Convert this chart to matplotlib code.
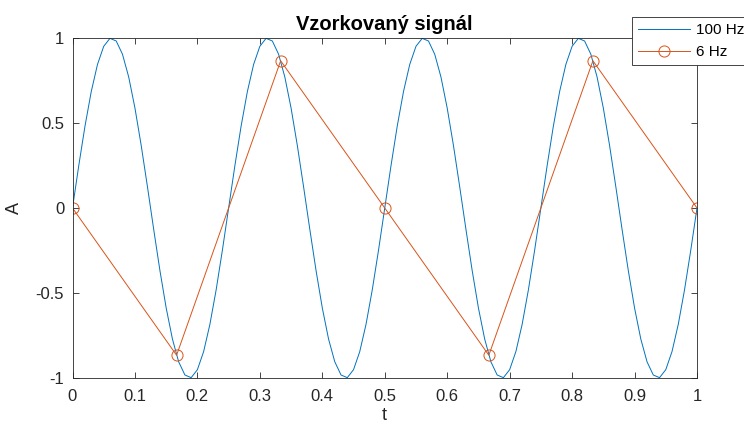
import matplotlib.pyplot as plt
import numpy as np

plt.rcParams['font.family'] = ['Liberation Sans', 'DejaVu Sans']

# 100 Hz sampled signal (4 Hz sine)
t_fine = np.linspace(0, 1, 101)
a_fine = [0.0, 0.2487, 0.4818, 0.6845, 0.8443, 0.9511, 0.998, 0.9823, 0.9048, 0.7705, 0.5878, 0.3681, 0.1253,
          -0.1253, -0.3681, -0.5878, -0.7705, -0.9048, -0.9823, -0.998, -0.9511, -0.8443, -0.6845, -0.4818, -0.2487,
          0.0, 0.2487, 0.4818, 0.6845, 0.8443, 0.9511, 0.998, 0.9823, 0.9048, 0.7705, 0.5878, 0.3681, 0.1253,
          -0.1253, -0.3681, -0.5878, -0.7705, -0.9048, -0.9823, -0.998, -0.9511, -0.8443, -0.6845, -0.4818, -0.2487,
          0.0, 0.2487, 0.4818, 0.6845, 0.8443, 0.9511, 0.998, 0.9823, 0.9048, 0.7705, 0.5878, 0.3681, 0.1253,
          -0.1253, -0.3681, -0.5878, -0.7705, -0.9048, -0.9823, -0.998, -0.9511, -0.8443, -0.6845, -0.4818, -0.2487,
          0.0, 0.2487, 0.4818, 0.6845, 0.8443, 0.9511, 0.998, 0.9823, 0.9048, 0.7705, 0.5878, 0.3681, 0.1253,
          -0.1253, -0.3681, -0.5878, -0.7705, -0.9048, -0.9823, -0.998, -0.9511, -0.8443, -0.6845, -0.4818, -0.2487,
          0.0]

# 6 Hz samples
t_s = [0, 1/6, 2/6, 3/6, 4/6, 5/6, 1]
a_s = [0.0, -0.866, 0.866, 0.0, -0.866, 0.866, 0.0]

xticks = [0, 0.1, 0.2, 0.3, 0.4, 0.5, 0.6, 0.7, 0.8, 0.9, 1]
yticks = [-1, -0.5, 0, 0.5, 1]

fig = plt.figure(figsize=(7.44, 4.26), dpi=100)
ax = fig.add_axes([72.5/744, 1 - 378/426, (697 - 72.5)/744, (378 - 38)/426])

ax.plot(t_fine, a_fine, color='#0072BD', lw=0.7, label='100 Hz')
ax.plot(t_s, a_s, color='#D95319', lw=0.7, marker='o', ms=8, mfc='none', mew=0.7, label='6 Hz')

ax.set_xlim(0, 1)
ax.set_ylim(-1, 1)
ax.set_xticks(xticks)
ax.set_xticklabels(['0', '0.1', '0.2', '0.3', '0.4', '0.5', '0.6', '0.7', '0.8', '0.9', '1'])
ax.set_yticks(yticks)
ax.set_yticklabels(['-1', '-0.5', '0', '0.5', '1'])
ax.tick_params(direction='in', length=4.5, width=0.6, colors='#262626', labelsize=12, top=True, right=True,
               labeltop=False, labelright=False)
ax.tick_params(axis='x', pad=8)
ax.tick_params(axis='y', pad=6)
for s in ax.spines.values():
    s.set_color('#262626')
    s.set_linewidth(0.6)

ax.set_title('Vzorkovaný signál', fontsize=14.5, fontweight='bold', color='black', pad=6)
ax.set_xlabel('t', fontsize=13, color='#262626', labelpad=2)
ax.set_ylabel('A', fontsize=13, color='#262626', labelpad=9)

leg = fig.legend(loc='upper left', bbox_to_anchor=(632/744, 1 - 17/426), fontsize=11, frameon=True,
                 fancybox=False, edgecolor='#262626', framealpha=1, borderaxespad=0, handlelength=3.4,
                 handletextpad=0.35, borderpad=0.42, labelspacing=0.5)
leg.get_frame().set_linewidth(0.6)

fig.savefig('out.png', dpi=100)
